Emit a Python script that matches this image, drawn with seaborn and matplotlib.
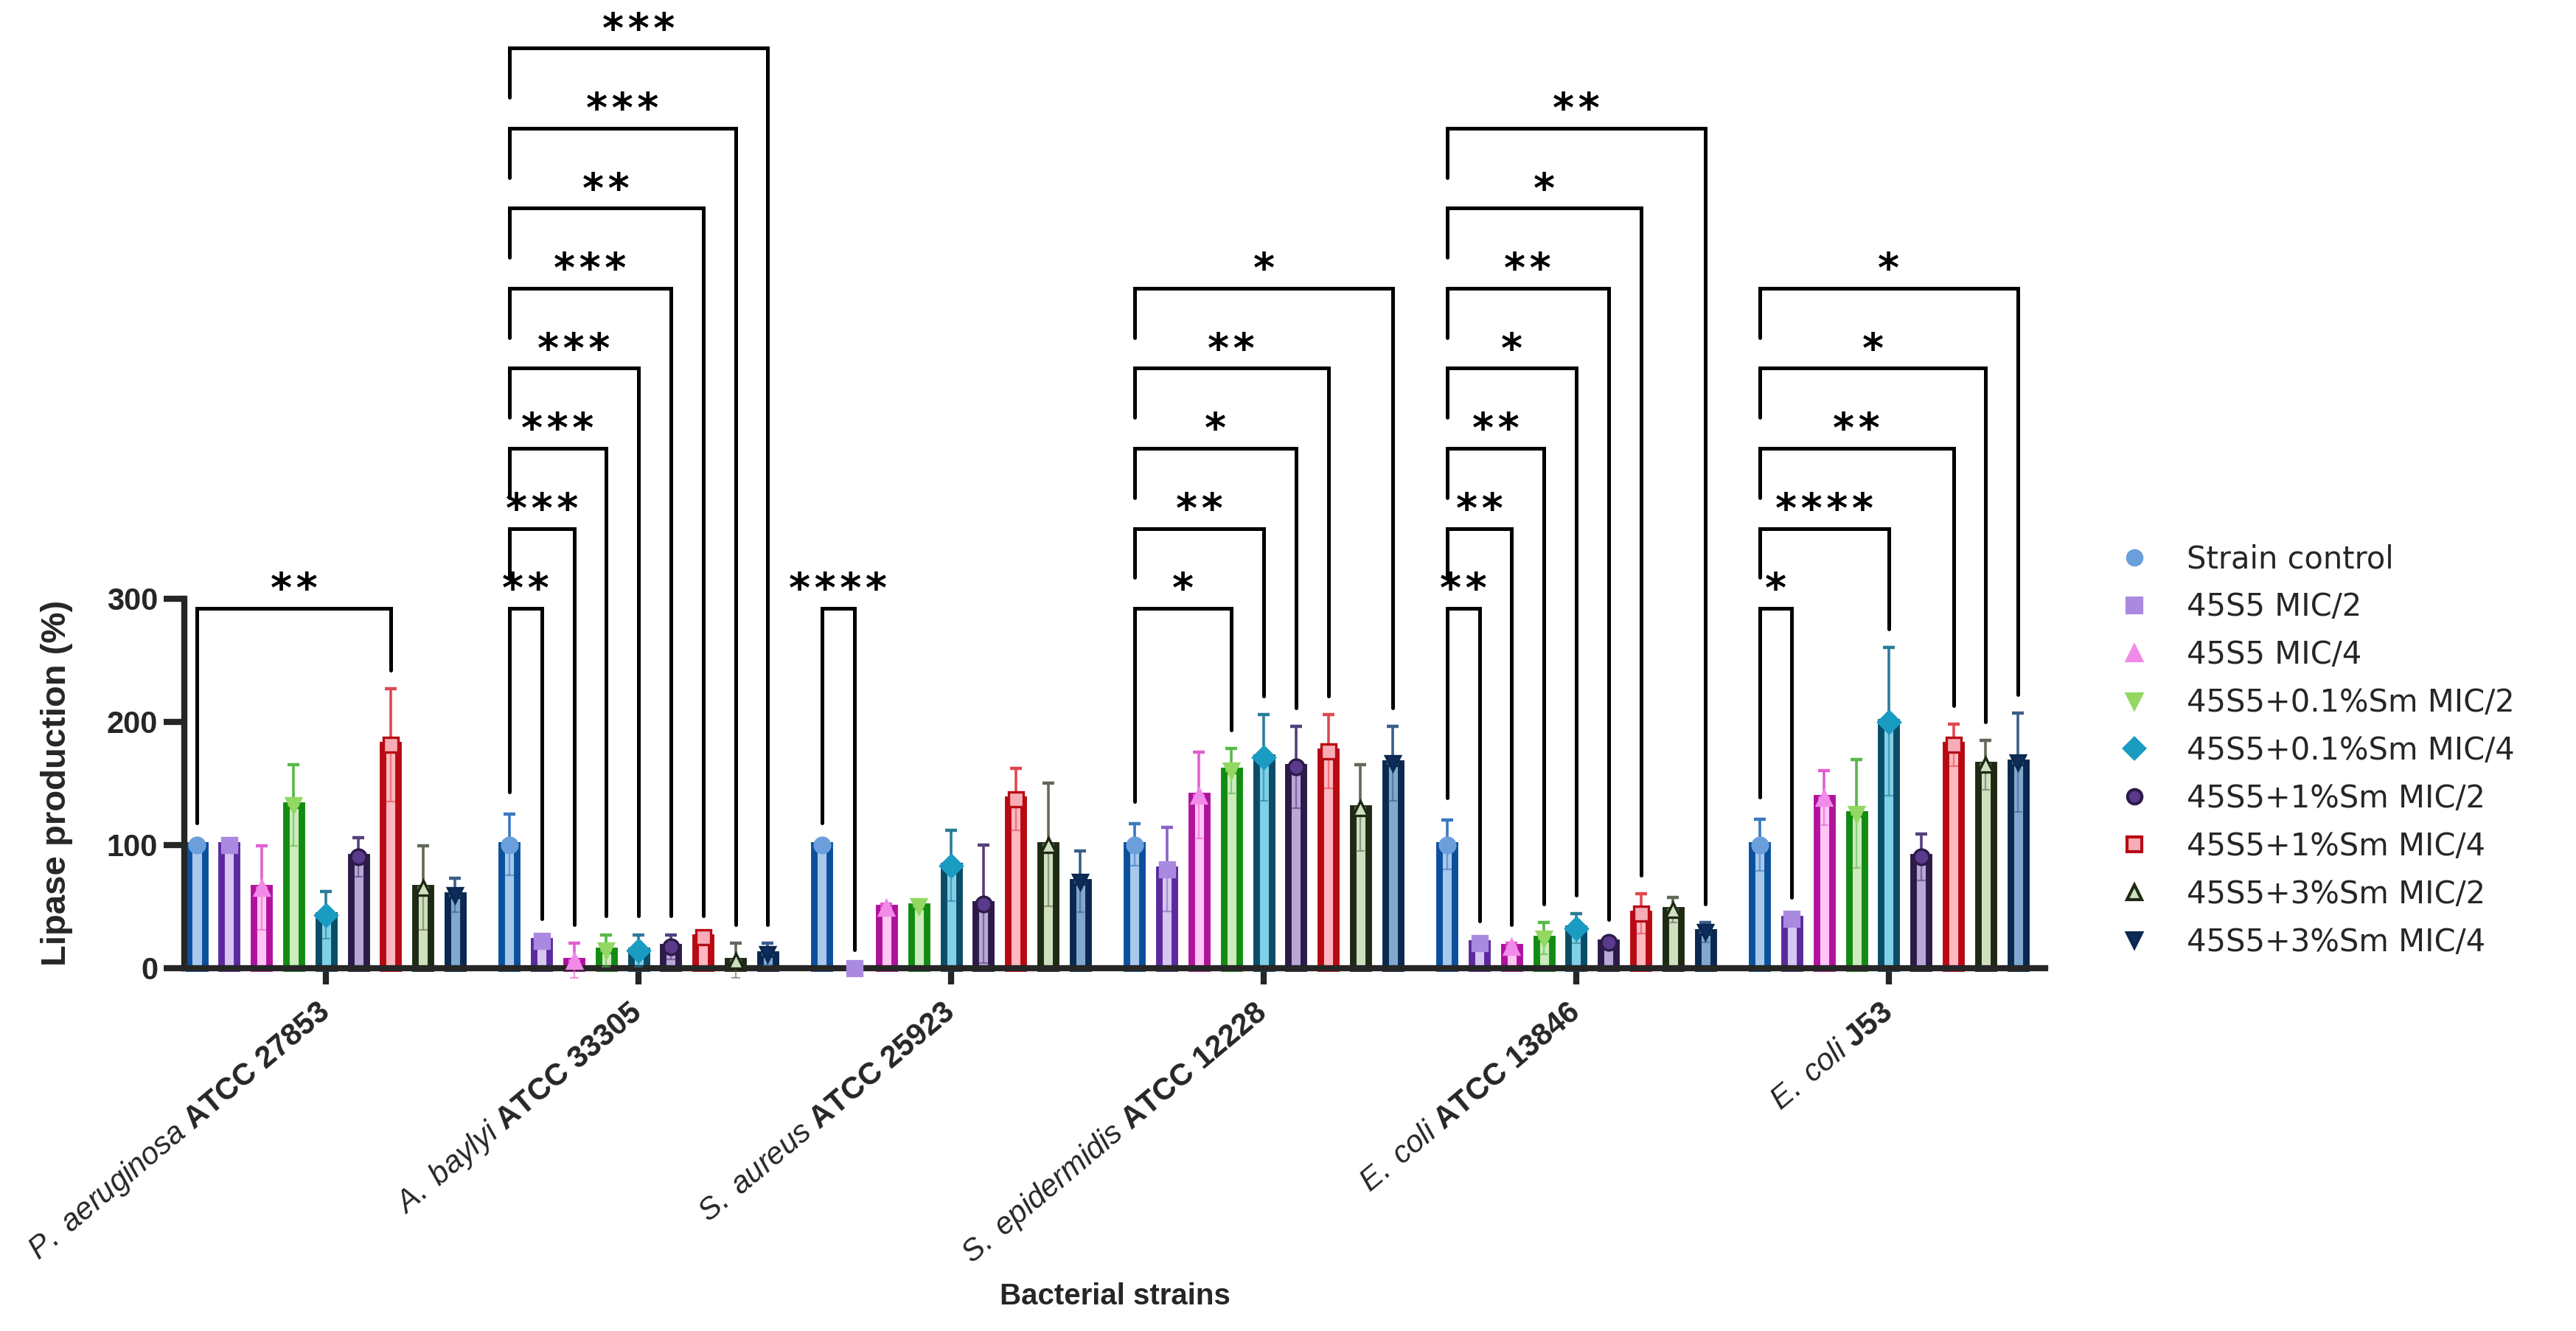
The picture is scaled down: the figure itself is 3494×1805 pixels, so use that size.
import matplotlib
matplotlib.use("Agg")
import matplotlib.pyplot as plt
import seaborn as sns
import pandas as pd
from matplotlib.lines import Line2D

# --- data ---
species = ["P. aeruginosa", "A. baylyi", "S. aureus", "S. epidermidis", "E. coli", "E. coli"]
codes = ["ATCC 27853", "ATCC 33305", "ATCC 25923", "ATCC 12228", "ATCC 13846", "J53"]

treatments = ["Strain control", "45S5 MIC/2", "45S5 MIC/4",
              "45S5+0.1%Sm MIC/2", "45S5+0.1%Sm MIC/4",
              "45S5+1%Sm MIC/2", "45S5+1%Sm MIC/4",
              "45S5+3%Sm MIC/2", "45S5+3%Sm MIC/4"]

ctrl = [100, 100, 100, 100, 100, 100]
m2 = [100, 22, 0, 80, 20, 40]
m4 = [65, 6, 49, 140, 17, 138]
s01_m2 = [132, 14, 50, 160, 24, 125]
s01_m4 = [43, 14, 83, 171, 32, 200]
s1_m2 = [90, 17, 52, 163, 21, 90]
s1_m4 = [181, 25, 137, 176, 44, 181]
s3_m2 = [65, 6, 100, 130, 47, 165]
s3_m4 = [59, 11, 70, 166, 29, 167]

ctrl_sd = [0, 25, 0, 17, 20, 21]
m2_sd = [0, 3, 0, 34, 3, 2]
m4_sd = [34, 14, 3, 35, 3, 22]
s01_m2_sd = [33, 13, 3, 18, 13, 44]
s01_m4_sd = [19, 13, 29, 35, 12, 60]
s1_m2_sd = [16, 10, 48, 33, 3, 19]
s1_m4_sd = [46, 2, 25, 30, 16, 17]
s3_m2_sd = [34, 14, 50, 35, 10, 20]
s3_m4_sd = [14, 9, 25, 30, 8, 40]

# significance brackets: control vs target bar inside a strain group
br_group = [0, 1, 1, 1, 1, 1, 1, 1, 1, 2, 3, 3, 3, 3, 3, 4, 4, 4, 4, 4, 4, 4, 5, 5, 5, 5, 5]
br_target = [6, 1, 2, 3, 4, 5, 6, 7, 8, 1, 3, 4, 5, 6, 8, 1, 2, 3, 4, 5, 6, 8, 1, 4, 6, 7, 8]
br_level = [0, 0, 1, 2, 3, 4, 5, 6, 7, 0, 0, 1, 2, 3, 4, 0, 1, 2, 3, 4, 5, 6, 0, 1, 2, 3, 4]
br_stars = ["**", "**", "***", "***", "***", "***", "**", "***", "***", "****",
            "*", "**", "*", "**", "*", "**", "**", "**", "*", "**", "*", "**",
            "*", "****", "**", "*", "*"]

means = [ctrl, m2, m4, s01_m2, s01_m4, s1_m2, s1_m4, s3_m2, s3_m4]
sds = [ctrl_sd, m2_sd, m4_sd, s01_m2_sd, s01_m4_sd, s1_m2_sd, s1_m4_sd, s3_m2_sd, s3_m4_sd]

edge_cols = ["#0b509d", "#5b2a9e", "#b0129c", "#128b12", "#0b4c66",
             "#2c1a48", "#b80a14", "#1e2a14", "#0a2850"]
fill_cols = ["#a8c8ec", "#d6c6f0", "#ffc6f6", "#cdebbd", "#80d0e8",
             "#b8a8d8", "#ffb8c0", "#cfe0bf", "#80a8d0"]
err_cols = ["#3a78c0", "#8a62c8", "#e060d0", "#58b848", "#2a7c98",
            "#55407a", "#e04850", "#606a58", "#3a5f8a"]
mark_cols = ["#6a9fdb", "#a98ae0", "#f28ae9", "#93d862", "#1a9bc2",
             "#5a3a8c", "#f6adb5", "#cfe0bf", "#0c2c5c"]
markers = ["o", "s", "^", "v", "D", "o", "s", "^", "v"]

labels = []
for sp, cd in zip(species, codes):
    labels.append(r"$\mathit{" + sp.replace(" ", r"\ ") + r"}$ $\mathbf{" + cd.replace(" ", r"\ ") + "}$")

rows = []
for t, vals in zip(treatments, means):
    for lab, v in zip(labels, vals):
        rows.append({"strain": lab, "treatment": t, "value": v})
df = pd.DataFrame(rows)

sns.set_style("ticks")
plt.rcParams["font.family"] = ["Liberation Sans", "DejaVu Sans"]
plt.rcParams["mathtext.fontset"] = "custom"
plt.rcParams["mathtext.rm"] = "Liberation Sans"
plt.rcParams["mathtext.it"] = "Liberation Sans:italic"
plt.rcParams["mathtext.bf"] = "Liberation Sans:bold"

fig = plt.figure(figsize=(17.47, 9.025), dpi=200)
ax = fig.add_axes([0.0716, 0.2543, 0.7223, 0.740])

sns.barplot(data=df, x="strain", y="value", hue="treatment",
            order=labels, hue_order=treatments, palette=fill_cols,
            width=0.93, gap=0.52, errorbar=None, saturation=1,
            legend=False, ax=ax, zorder=2)

bar_conts = list(ax.containers)
centers = []
for i, cont in enumerate(bar_conts):
    xs = []
    for bar in cont:
        bar.set_edgecolor(edge_cols[i])
        bar.set_linewidth(3.2)
        xs.append(bar.get_x() + bar.get_width() / 2)
    centers.append(xs)

for i in range(len(treatments)):
    xs = centers[i]
    mu = means[i]
    sd = sds[i]
    # upper error bar
    ax.errorbar(xs, mu, yerr=[[0] * len(mu), sd], fmt="none", ecolor=err_cols[i],
                elinewidth=1.3, capsize=2.8, capthick=1.6, zorder=3)
    # lower part drawn inside the bar
    ax.errorbar(xs, mu, yerr=[sd, [0] * len(mu)], fmt="none", ecolor=err_cols[i],
                elinewidth=0.8, capsize=2.2, capthick=0.8, alpha=0.6, zorder=3)
    ax.plot(xs, mu, ls="none", marker=markers[i], ms=7.5, color=mark_cols[i],
            mec=edge_cols[i] if i >= 5 else mark_cols[i], mew=1.2, zorder=4,
            clip_on=False)

# brackets
base, step = 292, 65
for g, t, lv, st in zip(br_group, br_target, br_level, br_stars):
    x0 = centers[0][g]
    x1 = centers[t][g]
    y = base + step * lv
    if lv == 0:
        y_left = ctrl[g] + ctrl_sd[g] + 18
    else:
        y_left = y - 40
    y_right = means[t][g] + sds[t][g] + 15
    ax.plot([x0, x0, x1, x1], [y_left, y, y, y_right], color="black", lw=1.8,
            solid_joinstyle="miter", zorder=1)
    ax.text((x0 + x1) / 2, y - 2, "\u200a".join(st), ha="center", va="bottom",
            fontsize=20, fontweight="bold", color="black",
            family=["DejaVu Sans"])

ax.set_xlim(-0.453, 5.5)
ax.set_ylim(-20, 780)
ax.set_yticks([0, 100, 200, 300])
ax.set_yticklabels(["0", "100", "200", "300"], fontsize=15, fontweight="bold")
ax.spines["left"].set_bounds(0, 300)
ax.spines["bottom"].set_position(("data", 0))
ax.spines["left"].set_linewidth(3)
ax.spines["bottom"].set_linewidth(3)
sns.despine(ax=ax)
ax.tick_params(axis="y", width=3, length=10, pad=3)
ax.tick_params(axis="x", width=3, length=8, pad=12)

ax.set_xticks(range(len(labels)))
ax.set_xticklabels(labels, rotation=40, ha="right", va="center",
                   rotation_mode="anchor", fontsize=15)

ax.set_ylabel("Lipase production (%)", fontsize=17, fontweight="bold")
ax.yaxis.set_label_coords(-0.06, 170 / 800)
ax.set_xlabel("Bacterial strains", fontsize=14.5, fontweight="bold")
ax.xaxis.set_label_coords(0.5, -0.294)

handles = [Line2D([], [], ls="none", marker=markers[i], ms=7, color=mark_cols[i],
                  mec=edge_cols[i] if i >= 5 else mark_cols[i], mew=1.5)
           for i in range(len(treatments))]
fig.legend(handles, treatments, loc="center left", bbox_to_anchor=(0.812, 0.436),
           frameon=False, handlelength=1.0, handletextpad=1.2,
           labelspacing=0.55, prop={"family": ["DejaVu Sans"], "size": 15})

fig.savefig("out.png", dpi=200)
